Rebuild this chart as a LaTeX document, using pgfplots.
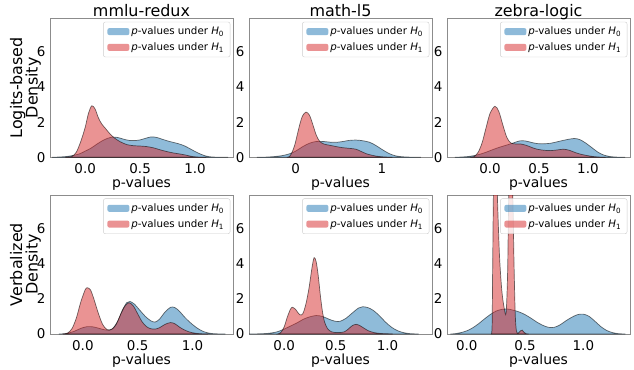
\documentclass[border=0pt]{standalone}
\usepackage{fontspec}
\setmainfont{DejaVu Sans}
\usepackage{pgfplots}
\pgfplotsset{compat=1.18}
\definecolor{tabblue}{HTML}{1F77B4}
\definecolor{tabred}{HTML}{D62728}
\pgfplotsset{
 panel/.style={
  scale only axis, width=183bp, height=139bp, anchor=south west,
  ymin=0, ymax=7.9,
  ytick={0,2,4,6}, yticklabels={0,2,4,6},
  xtick={0,0.5,1}, xticklabels={0.0,0.5,1.0},
  major tick length=0pt,
  axis line style={black!45, line width=0.8bp},
  tick label style={font=\fontsize{13.5}{15}\selectfont},
  xticklabel style={yshift=-2.5bp},
  yticklabel style={xshift=-1bp},
  xlabel style={font=\fontsize{14}{16}\selectfont, yshift=3bp},
  ylabel style={font=\fontsize{16}{15.5}\selectfont, align=center,
     at={(axis description cs:-0.134,0.5)}, anchor=center},
  every axis title shift=0pt,
  title style={font=\fontsize{16}{18}\selectfont, anchor=base, yshift=2bp},
  xlabel={p-values},
  legend cell align=left,
  legend style={at={(0.985,0.975)}, anchor=north east,
    font=\fontsize{10.3}{12}\selectfont,
    draw=black!20, rounded corners=2bp, fill=white, fill opacity=0.8, text opacity=1,
    inner xsep=4bp, inner ysep=3bp, row sep=2.5bp},
 },
 h0/.style={fill=tabblue, fill opacity=0.5, draw=black, draw opacity=0.55, line width=0.7bp, smooth,
   legend image code/.code={\fill[fill=tabblue, fill opacity=0.5, draw=none] (0bp,-3.5bp) rectangle (22bp,3.5bp);}},
 h1/.style={fill=tabred, fill opacity=0.5, draw=black, draw opacity=0.55, line width=0.7bp, smooth,
   legend image code/.code={\fill[fill=tabred, fill opacity=0.5, draw=none] (0bp,-3.5bp) rectangle (22bp,3.5bp);}},
}
\newcommand{\legA}{\addlegendentry{\textit{p}-values under \textit{H}\textsubscript{0}}}
\newcommand{\legB}{\addlegendentry{\textit{p}-values under \textit{H}\textsubscript{1}}}
\begin{document}
\begin{tikzpicture}
\useasboundingbox (0,0) rectangle (634bp,370bp);
% ---------- top row ----------
\begin{axis}[panel, at={(50bp,212.7bp)}, xmin=-0.32, xmax=1.345, title={mmlu-redux},
  ylabel={Logits-based\\Density}]
\addplot[h0] coordinates {(-0.30,0) (-0.26,0.01) (-0.20,0.03) (-0.15,0.06) (-0.10,0.12) (-0.05,0.2) (0.00,0.35) (0.05,0.51) (0.10,0.72) (0.15,0.92) (0.20,1.07) (0.25,1.15) (0.30,1.12) (0.35,1.03) (0.40,0.96) (0.45,0.95) (0.50,0.99) (0.55,1.08) (0.60,1.16) (0.65,1.13) (0.70,1.03) (0.75,0.93) (0.80,0.85) (0.85,0.77) (0.90,0.66) (0.95,0.5) (1.00,0.33) (1.05,0.18) (1.10,0.07) (1.15,0.02) (1.22,0.003) (1.30,0)} \closedcycle;
\legA
\addplot[h1] coordinates {(-0.18,0) (-0.12,0.05) (-0.08,0.3) (-0.04,0.9) (0.00,1.7) (0.03,2.5) (0.06,2.93) (0.09,2.75) (0.12,2.25) (0.15,1.9) (0.19,1.6) (0.23,1.3) (0.27,1.08) (0.32,0.88) (0.38,0.72) (0.44,0.66) (0.50,0.64) (0.56,0.61) (0.62,0.54) (0.68,0.43) (0.74,0.33) (0.80,0.25) (0.86,0.19) (0.92,0.12) (0.97,0.05) (1.03,0.01) (1.10,0)} \closedcycle;
\legB
\end{axis}
\begin{axis}[panel, at={(249bp,212.7bp)}, xmin=-0.54, xmax=1.58, title={math-l5},
  xtick={0,1}, xticklabels={0,1}]
\addplot[h0] coordinates {(-0.45,0) (-0.35,0.01) (-0.25,0.04) (-0.15,0.1) (-0.07,0.2) (0.00,0.35) (0.08,0.6) (0.16,0.8) (0.24,0.9) (0.32,0.9) (0.40,0.86) (0.47,0.85) (0.55,0.9) (0.62,0.96) (0.70,0.98) (0.78,0.94) (0.86,0.85) (0.93,0.67) (1.00,0.45) (1.08,0.22) (1.16,0.08) (1.24,0.03) (1.35,0.005) (1.45,0)} \closedcycle;
\legA
\addplot[h1] coordinates {(-0.10,0) (-0.07,0.05) (-0.04,0.3) (-0.01,0.7) (0.02,1.3) (0.05,1.9) (0.08,2.35) (0.12,2.57) (0.16,2.4) (0.20,1.85) (0.24,1.25) (0.28,0.9) (0.33,0.75) (0.40,0.68) (0.47,0.61) (0.54,0.55) (0.62,0.51) (0.70,0.46) (0.76,0.33) (0.82,0.2) (0.88,0.12) (0.93,0.07) (1.00,0.03) (1.06,0.01) (1.12,0)} \closedcycle;
\legB
\end{axis}
\begin{axis}[panel, at={(447bp,212.7bp)}, xmin=-0.44, xmax=1.43, title={zebra-logic}]
\addplot[h0] coordinates {(-0.36,0) (-0.28,0.02) (-0.20,0.06) (-0.12,0.15) (-0.05,0.27) (0.02,0.42) (0.09,0.56) (0.16,0.68) (0.23,0.8) (0.30,0.93) (0.36,0.93) (0.42,0.85) (0.48,0.78) (0.55,0.77) (0.62,0.8) (0.70,0.9) (0.78,1.0) (0.86,1.07) (0.92,1.0) (0.98,0.8) (1.04,0.55) (1.10,0.3) (1.16,0.13) (1.23,0.04) (1.30,0.01) (1.38,0)} \closedcycle;
\legA
\addplot[h1] coordinates {(-0.20,0) (-0.16,0.05) (-0.12,0.3) (-0.08,0.85) (-0.04,1.7) (0.00,2.5) (0.05,2.9) (0.09,2.6) (0.13,1.85) (0.17,1.15) (0.21,0.82) (0.26,0.76) (0.31,0.76) (0.37,0.68) (0.43,0.55) (0.48,0.46) (0.55,0.4) (0.62,0.38) (0.69,0.42) (0.75,0.46) (0.81,0.4) (0.87,0.27) (0.93,0.17) (1.00,0.09) (1.06,0.04) (1.12,0.01) (1.18,0)} \closedcycle;
\legB
\end{axis}
% ---------- bottom row ----------
\begin{axis}[panel, at={(50bp,36bp)}, xmin=-0.30, xmax=1.37,
  ylabel={Verbalized\\Density}]
\addplot[h0] coordinates {(-0.22,0) (-0.15,0.03) (-0.08,0.15) (-0.02,0.32) (0.04,0.42) (0.10,0.4) (0.16,0.3) (0.22,0.22) (0.27,0.3) (0.32,0.75) (0.36,1.35) (0.40,1.78) (0.43,1.85) (0.47,1.7) (0.52,1.35) (0.57,1.0) (0.62,0.75) (0.66,0.68) (0.70,0.85) (0.75,1.25) (0.80,1.52) (0.84,1.5) (0.88,1.3) (0.93,0.95) (0.98,0.65) (1.04,0.35) (1.10,0.14) (1.16,0.04) (1.22,0.01) (1.30,0)} \closedcycle;
\legA
\addplot[h1] coordinates {(-0.18,0) (-0.14,0.05) (-0.10,0.3) (-0.06,0.9) (-0.02,1.8) (0.02,2.5) (0.04,2.63) (0.07,2.5) (0.10,2.0) (0.14,1.2) (0.18,0.55) (0.22,0.25) (0.26,0.25) (0.30,0.5) (0.34,1.05) (0.38,1.55) (0.42,1.78) (0.46,1.6) (0.50,1.15) (0.54,0.7) (0.58,0.42) (0.62,0.3) (0.66,0.28) (0.70,0.36) (0.75,0.55) (0.80,0.65) (0.84,0.58) (0.88,0.4) (0.92,0.25) (0.97,0.12) (1.02,0.05) (1.08,0.01) (1.14,0)} \closedcycle;
\legB
\end{axis}
\begin{axis}[panel, at={(249bp,36bp)}, xmin=-0.34, xmax=1.43]
\addplot[h0] coordinates {(-0.34,0) (-0.25,0.01) (-0.15,0.04) (-0.07,0.12) (0.00,0.28) (0.06,0.45) (0.12,0.62) (0.19,0.85) (0.25,0.98) (0.31,1.05) (0.37,1.0) (0.43,0.85) (0.49,0.73) (0.54,0.72) (0.60,0.9) (0.66,1.2) (0.72,1.48) (0.76,1.55) (0.81,1.5) (0.86,1.35) (0.92,1.05) (0.98,0.68) (1.04,0.38) (1.10,0.18) (1.16,0.07) (1.22,0.02) (1.30,0)} \closedcycle;
\legA
\addplot[h1] coordinates {(-0.06,0) (-0.03,0.1) (0.00,0.4) (0.03,0.95) (0.06,1.4) (0.08,1.52) (0.11,1.4) (0.15,1.1) (0.18,1.15) (0.21,1.7) (0.24,2.6) (0.27,3.8) (0.29,4.34) (0.31,4.1) (0.33,3.3) (0.35,2.2) (0.37,1.3) (0.39,0.7) (0.42,0.3) (0.46,0.12) (0.52,0.08) (0.58,0.12) (0.62,0.28) (0.66,0.48) (0.70,0.55) (0.74,0.45) (0.78,0.3) (0.82,0.17) (0.87,0.08) (0.93,0.03) (1.00,0.01) (1.05,0)} \closedcycle;
\legB
\end{axis}
\begin{axis}[panel, at={(447bp,36bp)}, xmin=-0.17, xmax=1.40]
\addplot[h0] coordinates {(-0.14,0) (-0.10,0.02) (-0.05,0.08) (0.00,0.18) (0.05,0.35) (0.10,0.58) (0.15,0.85) (0.20,1.1) (0.25,1.3) (0.30,1.4) (0.35,1.42) (0.40,1.35) (0.45,1.25) (0.50,1.1) (0.55,0.9) (0.60,0.68) (0.65,0.5) (0.70,0.38) (0.75,0.38) (0.80,0.52) (0.85,0.75) (0.90,0.95) (0.95,1.1) (1.00,1.13) (1.05,1.0) (1.10,0.72) (1.15,0.42) (1.20,0.2) (1.25,0.08) (1.30,0.02) (1.36,0)} \closedcycle;
\legA
\addplot[h1] coordinates {(0.21,0) (0.217,0.5) (0.222,4) (0.228,7.9) (0.235,10) (0.245,11) (0.255,10) (0.262,7.9) (0.28,4.5) (0.30,2.5) (0.32,1.5) (0.337,1.2) (0.35,3.5) (0.36,7.9) (0.377,10) (0.394,7.9) (0.405,4) (0.415,1.2) (0.425,0.2) (0.44,0.04) (0.46,0.18) (0.475,0.22) (0.49,0.1) (0.51,0.01) (0.53,0)} \closedcycle;
\legB
\end{axis}
\end{tikzpicture}
\end{document}
